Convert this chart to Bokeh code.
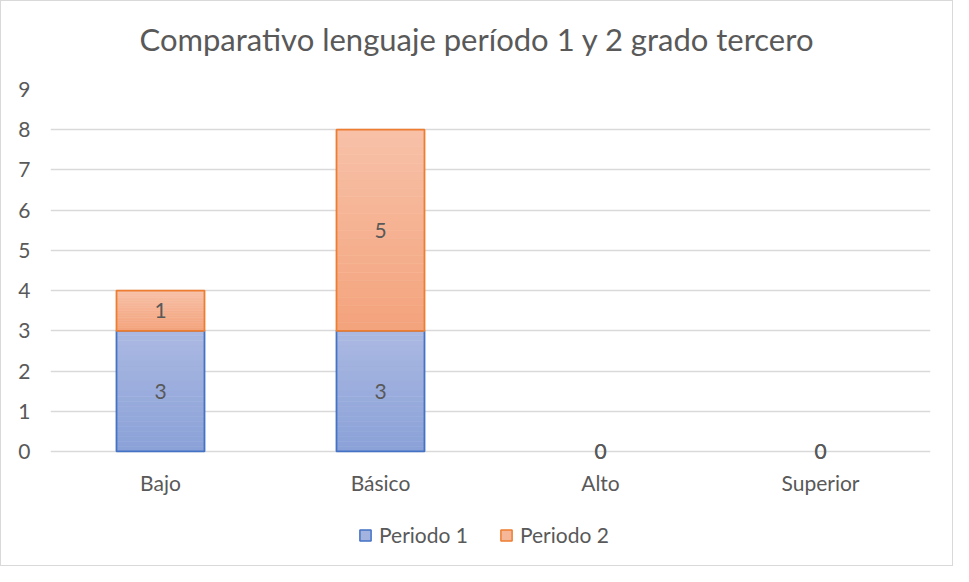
import numpy as np
from bokeh.plotting import figure
from bokeh.layouts import column
from bokeh.models import ColumnDataSource, Range1d, FactorRange, Legend, LegendItem, LabelSet, FixedTicker, Div
from bokeh.core.properties import value
from bokeh.embed import file_html
from bokeh.resources import INLINE

# ---- data ----
title_text = "Comparativo lenguaje período 1 y 2 grado tercero"
categories = ["Bajo", "Básico", "Alto", "Superior"]
series_names = ["Periodo 1", "Periodo 2"]
periodo1 = [3, 3, 0, 0]
periodo2 = [1, 5, 0, 0]
y_ticks = [0, 1, 2, 3, 4, 5, 6, 7, 8, 9]

# ---- styles ----
FONT = "Lato"
TXT = "#595959"
GRID = "#d9d9d9"
BORDER_COLORS = ["#4472c4", "#ed7d31"]
GRAD = [("#8aa1d8", "#abb9e2"), ("#f4a37c", "#f7c1a8")]  # (bottom, top)
LEGEND_FILL = ["#a3b3e0", "#f6b799"]
BAR_W = 0.4
N_SLICES = 24
FS = "21px"
W = 951


def hex2rgb(h):
    h = h.lstrip("#")
    return np.array([int(h[i:i + 2], 16) for i in (0, 2, 4)], dtype=float)


def rgb2hex(c):
    return "#%02x%02x%02x" % tuple(int(round(v)) for v in c)


series = [periodo1, periodo2]

# ---- title ----
title_div = Div(text=title_text, width=W, height=76, margin=0,
                styles={"font-family": FONT, "font-size": "31px", "color": TXT,
                        "text-align": "center", "line-height": "76px",
                        "white-space": "nowrap", "background-color": "white"})

# ---- chart ----
p = figure(x_range=FactorRange(*categories), y_range=Range1d(-0.25, 9),
           width=W, height=424, output_backend="svg", toolbar_location=None,
           min_border_left=49, min_border_right=22, min_border_top=12,
           min_border_bottom=40)
p.outline_line_color = None
p.background_fill_color = "white"
p.border_fill_color = "white"

p.xgrid.grid_line_color = None
p.ygrid.grid_line_color = GRID
p.ygrid.grid_line_width = 1.3

p.yaxis.ticker = FixedTicker(ticks=y_ticks)
p.yaxis.axis_line_color = None
p.yaxis.major_tick_line_color = None
p.yaxis.minor_tick_line_color = None
p.yaxis.major_label_text_font = FONT
p.yaxis.major_label_text_font_size = FS
p.yaxis.major_label_text_color = TXT
p.yaxis.major_label_standoff = 14

p.xaxis.axis_line_color = None
p.xaxis.major_tick_line_color = None
p.xaxis.minor_tick_line_color = None
p.xaxis.major_label_text_font = FONT
p.xaxis.major_label_text_font_size = FS
p.xaxis.major_label_text_color = TXT
p.xaxis.major_label_standoff = 2

bottoms = [0] * len(categories)
label_x, label_y, label_t = [], [], []
for si, vals in enumerate(series):
    c0, c1 = hex2rgb(GRAD[si][0]), hex2rgb(GRAD[si][1])
    xs, bs, ts, cs = [], [], [], []
    ox, ob, ot = [], [], []
    for ci, cat in enumerate(categories):
        v = vals[ci]
        b = bottoms[ci]
        label_x.append(cat)
        label_y.append(b + v / 2)
        label_t.append(str(v))
        if v > 0:
            for k in range(N_SLICES):
                xs.append(cat)
                bs.append(b + v * k / N_SLICES)
                ts.append(b + v * (k + 1) / N_SLICES)
                cs.append(rgb2hex(c0 + (c1 - c0) * (k + 0.5) / N_SLICES))
            ox.append(cat)
            ob.append(b)
            ot.append(b + v)
        bottoms[ci] = b + v
    p.vbar(x=xs, bottom=bs, top=ts, width=BAR_W, fill_color=cs, line_color=cs, line_width=0.6)
    p.vbar(x=ox, bottom=ob, top=ot, width=BAR_W, fill_alpha=0,
           line_color=BORDER_COLORS[si], line_width=1.8)

labels = LabelSet(source=ColumnDataSource(dict(x=label_x, y=label_y, t=label_t)),
                  x="x", y="y", text="t", text_align="center", text_baseline="middle",
                  text_font=value(FONT), text_font_size=FS, text_color=TXT)
p.add_layout(labels)

# ---- legend strip (separate figure below the chart) ----
q = figure(width=W, height=64, output_backend="svg", toolbar_location=None,
           x_range=FactorRange(*categories), y_range=Range1d(0, 9),
           min_border=0, min_border_left=0, min_border_right=0,
           min_border_top=0, min_border_bottom=0)
q.axis.visible = False
q.grid.grid_line_color = None
q.outline_line_color = None
q.background_fill_color = "white"
q.border_fill_color = "white"
legend_items = []
for si, name in enumerate(series_names):
    r = q.vbar(x=categories, top=series[si], width=BAR_W, fill_color=LEGEND_FILL[si],
               line_color=BORDER_COLORS[si], line_width=1.5)
    r.visible = False
    legend_items.append(LegendItem(label=name, renderers=[r]))
legend = Legend(items=legend_items, orientation="horizontal", location=(308, 18))
legend.border_line_color = None
legend.background_fill_alpha = 0
legend.inactive_fill_alpha = 0
legend.label_text_font = FONT
legend.label_text_font_size = FS
legend.label_text_color = TXT
legend.glyph_width = 14
legend.glyph_height = 14
legend.spacing = 31
legend.label_standoff = 7
legend.margin = 0
legend.padding = 0
q.add_layout(legend)

layout = column(title_div, p, q, spacing=0)
layout.styles = {"border": "1px solid #d9d9d9", "background-color": "white"}

open("out.html", "w").write(file_html(layout, INLINE))
